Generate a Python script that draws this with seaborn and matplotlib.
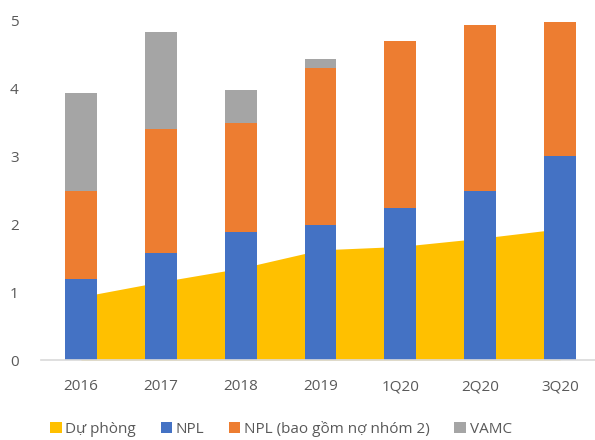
import matplotlib
matplotlib.use("Agg")
import matplotlib.pyplot as plt
from matplotlib.patches import Patch
import seaborn as sns
import pandas as pd
import numpy as np

categories = ["2016", "2017", "2018", "2019", "1Q20", "2Q20", "3Q20"]
du_phong = [0.93, 1.15, 1.35, 1.62, 1.67, 1.79, 1.93]
npl = [1.19, 1.58, 1.88, 1.99, 2.24, 2.48, 3.00]
npl_nhom2 = [1.30, 1.81, 1.60, 2.30, 2.45, 2.45, 1.97]   # phần tăng thêm trên NPL
vamc = [1.44, 1.43, 0.49, 0.13, 0.0, 0.0, 0.0]
y_ticks = [0, 1, 2, 3, 4, 5]

labels = ["Dự phòng", "NPL", "NPL (bao gồm nợ nhóm 2)", "VAMC"]
colors = ["#FFC000", "#4472C4", "#ED7D31", "#A5A5A5"]

sns.set_theme(style="white")
plt.rcParams["font.family"] = ["Open Sans", "DejaVu Sans"]

df = pd.DataFrame({"cat": categories, "dp": du_phong, "npl": npl,
                   "n2": npl_nhom2, "vamc": vamc})
df["b2"] = df["npl"]
df["b3"] = df["npl"] + df["n2"]

fig = plt.figure(figsize=(5.95, 4.4), dpi=100)
ax = fig.add_axes([41/595, 80/440, (600-41)/595, 340/440])

x = np.arange(len(categories))
ax.fill_between(x, 0, df["dp"], color=colors[0], linewidth=0, zorder=0.5)

common = dict(width=0.4, edgecolor="none", linewidth=0, zorder=2, ax=ax,
              order=categories, saturation=1)
sns.barplot(data=df, x="cat", y="npl", color=colors[1], **common)
sns.barplot(data=df, x="cat", y="n2", bottom=df["b2"], color=colors[2], **common)
sns.barplot(data=df, x="cat", y="vamc", bottom=df["b3"], color=colors[3], **common)

ax.set_xlim(-0.5, 6.5)
ax.set_ylim(0, 5)
ax.set_yticks(y_ticks)
ax.set_xlabel("")
ax.set_ylabel("")
for s in ["top", "right", "left"]:
    ax.spines[s].set_visible(False)
ax.spines["bottom"].set_color("#D9D9D9")
ax.spines["bottom"].set_linewidth(1.2)
ax.tick_params(axis="both", length=0, labelsize=11, colors="#595959")
ax.tick_params(axis="y", pad=16)
ax.tick_params(axis="x", pad=14)

handles = [Patch(facecolor=c, edgecolor="none") for c in colors]
fig.legend(handles, labels, loc="center", bbox_to_anchor=(0.472, 11/440),
           ncol=4, frameon=False, fontsize=11, handlelength=0.75, handleheight=0.75,
           handletextpad=0.25, columnspacing=1.6, labelcolor="#595959",
           borderpad=0.1)

fig.savefig("out.png", dpi=100)
